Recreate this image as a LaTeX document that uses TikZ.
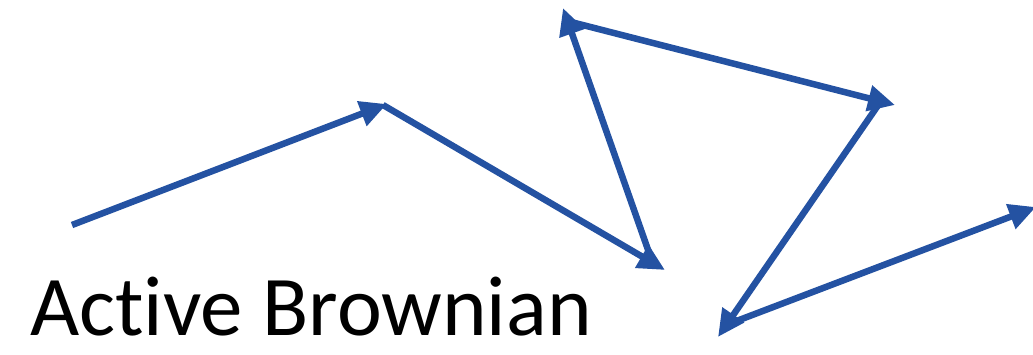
\documentclass[tikz,border=0pt]{standalone}
\usepackage{fontspec}
\setmainfont{Carlito}[RawFeature=-liga]
\usetikzlibrary{arrows.meta,calc}
\definecolor{arrowblue}{RGB}{36,82,162}
\tikzset{
  walk/.style={draw=arrowblue, line width=6.5pt, -{Triangle[length=27pt,width=25pt]}},
  label/.style={anchor=base west, inner sep=0pt, text depth=0pt, font=\fontsize{85}{96}\selectfont}
}
\begin{document}
\begin{tikzpicture}[x=1pt,y=-1pt]
\useasboundingbox (0,0) rectangle (1033,354);
\coordinate (p0) at (72,225);
\coordinate (p1) at (387,104);
\coordinate (p2) at (665,270);
\coordinate (p3) at (563,8);
\coordinate (p4) at (895,105);
\coordinate (p5) at (718,337);
\coordinate (p6) at (1036,207);
\draw[walk] (p0) -- (p1);
\draw[walk] ($(p1)+(-4,1)$) -- (p2);
\draw[walk] ($(p2)+(-12,-6)$) -- (p3);
\draw[walk] ($(p3)+(8,14)$) -- (p4);
\draw[walk] ($(p4)+(-14,-4)$) -- (p5);
\draw[walk] ($(p5)+(8,-12)$) -- (p6);
\node[label] (title) at (30,335) {Active Brownian};
\end{tikzpicture}
\end{document}
